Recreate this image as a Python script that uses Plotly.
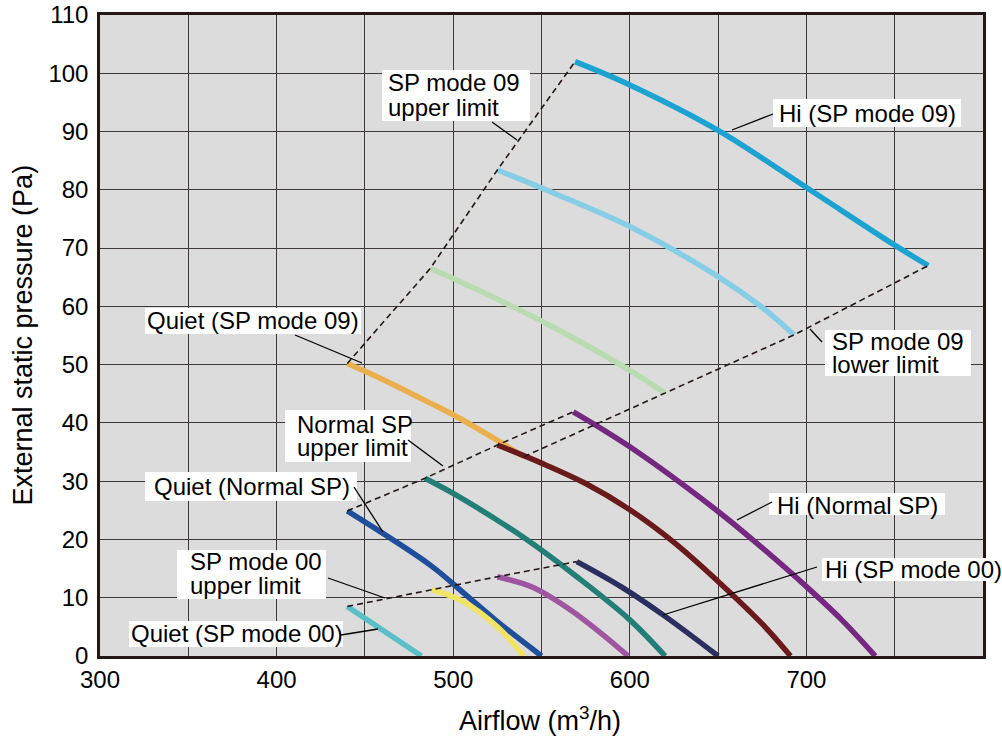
import plotly.graph_objects as go

# ---------------- data (airflow m3/h, external static pressure Pa) ----------------
hi09_x = [569, 600, 650, 700, 750, 769]
hi09_y = [102, 98, 90.2, 80.4, 70.5, 67]

mid09_x = [525, 550, 600, 650, 675, 693]
mid09_y = [83.4, 80.3, 73.7, 65.1, 59.8, 55.1]

low09_x = [487, 500, 526, 560, 600, 620]
low09_y = [66.5, 64.8, 61.1, 55.9, 49.0, 45.1]

quiet09_x = [440, 455, 470, 487, 500, 525, 540]
quiet09_y = [50.2, 48.2, 46.0, 43.4, 41.4, 37.0, 34.2]

hiN_x = [568, 600, 650, 674, 700, 720, 739]
hiN_y = [41.9, 35.9, 24.8, 18.8, 11.9, 6.2, 0]

midN_x = [525, 550, 575, 600, 625, 650, 675, 691]
midN_y = [36.2, 33.1, 29.6, 25.1, 19.5, 12.8, 5.5, 0]

lowN_x = [484, 500, 525, 542, 570, 600, 620]
lowN_y = [30.5, 27.9, 23.3, 19.9, 13.6, 6.2, 0]

quietN_x = [440, 487, 506, 525, 550]
quietN_y = [24.9, 15.6, 10.8, 5.9, 0]

hi00_x = [570, 595, 620, 650]
hi00_y = [16.2, 11.9, 6.8, 0]

mid00_x = [525, 545, 565, 585, 599]
mid00_y = [13.6, 11.8, 8.2, 3.6, 0]

low00_x = [488, 506, 525, 540]
low00_y = [11.4, 9.3, 5.0, 0]

quiet00_x = [440, 482]
quiet00_y = [8.5, 0]

x_ticks = [300, 400, 500, 600, 700, 800]
y_ticks = [0, 10, 20, 30, 40, 50, 60, 70, 80, 90, 100, 110]

# ---------------- styling ----------------
FONT = "Liberation Sans, Arial, Helvetica, sans-serif"
INK = "#231815"
GRID = "#3e3838"

curves = [
    (hi09_x, hi09_y, "#1da3d1"),
    (mid09_x, mid09_y, "#86cde6"),
    (low09_x, low09_y, "#b8dbb0"),
    (quiet09_x, quiet09_y, "#e9b04b"),
    (hiN_x, hiN_y, "#74287f"),
    (midN_x, midN_y, "#6b1a1c"),
    (lowN_x, lowN_y, "#237e78"),
    (quietN_x, quietN_y, "#1f4f9b"),
    (hi00_x, hi00_y, "#2a2f5f"),
    (mid00_x, mid00_y, "#9e56a0"),
    (low00_x, low00_y, "#f0e462"),
    (quiet00_x, quiet00_y, "#5abfc7"),
]

fig = go.Figure()
for cx, cy, col in curves:
    fig.add_trace(go.Scatter(x=cx, y=cy, mode="lines",
                             line=dict(color=col, width=5.5, shape="spline", smoothing=1.0),
                             hoverinfo="skip"))

# limit lines through curve end points
def starts(groups):
    return [g[0][0] for g in groups], [g[1][0] for g in groups]

def ends(groups):
    return [g[0][-1] for g in groups], [g[1][-1] for g in groups]

lim_sets = [
    starts([(quiet09_x, quiet09_y), (low09_x, low09_y), (mid09_x, mid09_y), (hi09_x, hi09_y)]),
    ends([(quiet09_x, quiet09_y), (low09_x, low09_y), (mid09_x, mid09_y), (hi09_x, hi09_y)]),
    starts([(quietN_x, quietN_y), (lowN_x, lowN_y), (midN_x, midN_y), (hiN_x, hiN_y)]),
    starts([(quiet00_x, quiet00_y), (low00_x, low00_y), (mid00_x, mid00_y), (hi00_x, hi00_y)]),
]
for lx, ly in lim_sets:
    fig.add_trace(go.Scatter(x=lx, y=ly, mode="lines",
                             line=dict(color=INK, width=1.6, dash="6px,4px"),
                             hoverinfo="skip"))

# ---------------- labels (layout positions in pixels) ----------------
L, R, T, B = 100, 983, 15, 656

def px(x):
    return (x - L) / (R - L)

def py(y):
    return (B - y) / (B - T)

labels = [
    dict(box=(382, 70, 530, 121), lines=[("SP mode 09", 386, 83), ("upper limit", 386, 107)], lead=(492, 122, 517, 140)),
    dict(box=(773, 99, 961, 127), lines=[("Hi (SP mode 09)", 777, 113)], lead=(732, 130, 773, 114)),
    dict(box=(825, 330, 971, 376), lines=[("SP mode 09", 830, 341), ("lower limit", 830, 364)], lead=(810, 329, 822, 342)),
    dict(box=(145, 308, 361, 334), lines=[("Quiet (SP mode 09)", 145, 320)], lead=(295, 335, 362, 363)),
    dict(box=(285, 410, 411, 462), lines=[("Normal SP", 295, 424), ("upper limit", 295, 447)], lead=(408, 440, 443, 466)),
    dict(box=(145, 472, 357, 501), lines=[("Quiet (Normal SP)", 152, 486)], lead=(354, 487, 383, 532)),
    dict(box=(177, 550, 326, 599), lines=[("SP mode 00", 188, 561), ("upper limit", 188, 585)], lead=(328, 578, 385, 598)),
    dict(box=(129, 621, 343, 647), lines=[("Quiet (SP mode 00)", 129, 633)], lead=(341, 635, 378, 629)),
    dict(box=(769, 493, 945, 515), lines=[("Hi (Normal SP)", 775, 505)], lead=(737, 520, 772, 502)),
    dict(box=(822, 558, 1002, 581), lines=[("Hi (SP mode 00)", 823, 569)], lead=(663, 615, 817, 567)),
]

shapes = []
annotations = []
for lab in labels:
    x0, y0, x1, y1 = lab["box"]
    shapes.append(dict(type="rect", xref="paper", yref="paper",
                       x0=px(x0), x1=px(x1), y0=py(y1), y1=py(y0),
                       fillcolor="white", line=dict(width=0), layer="above"))
    a0, b0, a1, b1 = lab["lead"]
    shapes.append(dict(type="line", xref="paper", yref="paper",
                       x0=px(a0), y0=py(b0), x1=px(a1), y1=py(b1),
                       line=dict(color="black", width=1.3), layer="above"))
    for txt, tx, ty in lab["lines"]:
        annotations.append(dict(text=txt, xref="paper", yref="paper", x=px(tx), y=py(ty),
                                xanchor="left", yanchor="middle", showarrow=False,
                                font=dict(family=FONT, size=24, color="black")))

# axis titles
annotations.append(dict(text="External static pressure (Pa)", xref="paper", yref="paper",
                        x=px(22), y=0.5, textangle=-90, xanchor="center", yanchor="middle",
                        showarrow=False, font=dict(family=FONT, size=27, color="black")))
annotations.append(dict(text="Airflow (m<sup>3</sup>/h)", xref="paper", yref="paper",
                        x=px(540), y=py(719), xanchor="center", yanchor="middle",
                        showarrow=False, font=dict(family=FONT, size=27, color="black")))

axis_common = dict(showline=True, linecolor=INK, linewidth=2.5, mirror=True,
                   showgrid=True, gridcolor=GRID, gridwidth=1, zeroline=False,
                   automargin=False,
                   ticks="", tickfont=dict(family=FONT, size=24, color="black"))

fig.update_layout(
    width=1002, height=736,
    margin=dict(l=L, r=1002 - R, t=T, b=736 - B),
    plot_bgcolor="#dcdcdc", paper_bgcolor="white",
    showlegend=False,
    xaxis=dict(range=[300, 800], tickvals=x_ticks, ticktext=[str(v) for v in x_ticks],
               minor=dict(dtick=50, tick0=300, showgrid=True, gridcolor=GRID, gridwidth=1),
               ticklabelstandoff=0, **axis_common),
    yaxis=dict(range=[0, 110], tickvals=y_ticks, ticktext=[str(v) for v in y_ticks],
               ticklabelstandoff=4, **axis_common),
    shapes=shapes, annotations=annotations,
)

fig.write_html("out.html", config={"displayModeBar": False},
               post_script="document.body.style.margin='0';document.body.style.overflow='hidden';")
